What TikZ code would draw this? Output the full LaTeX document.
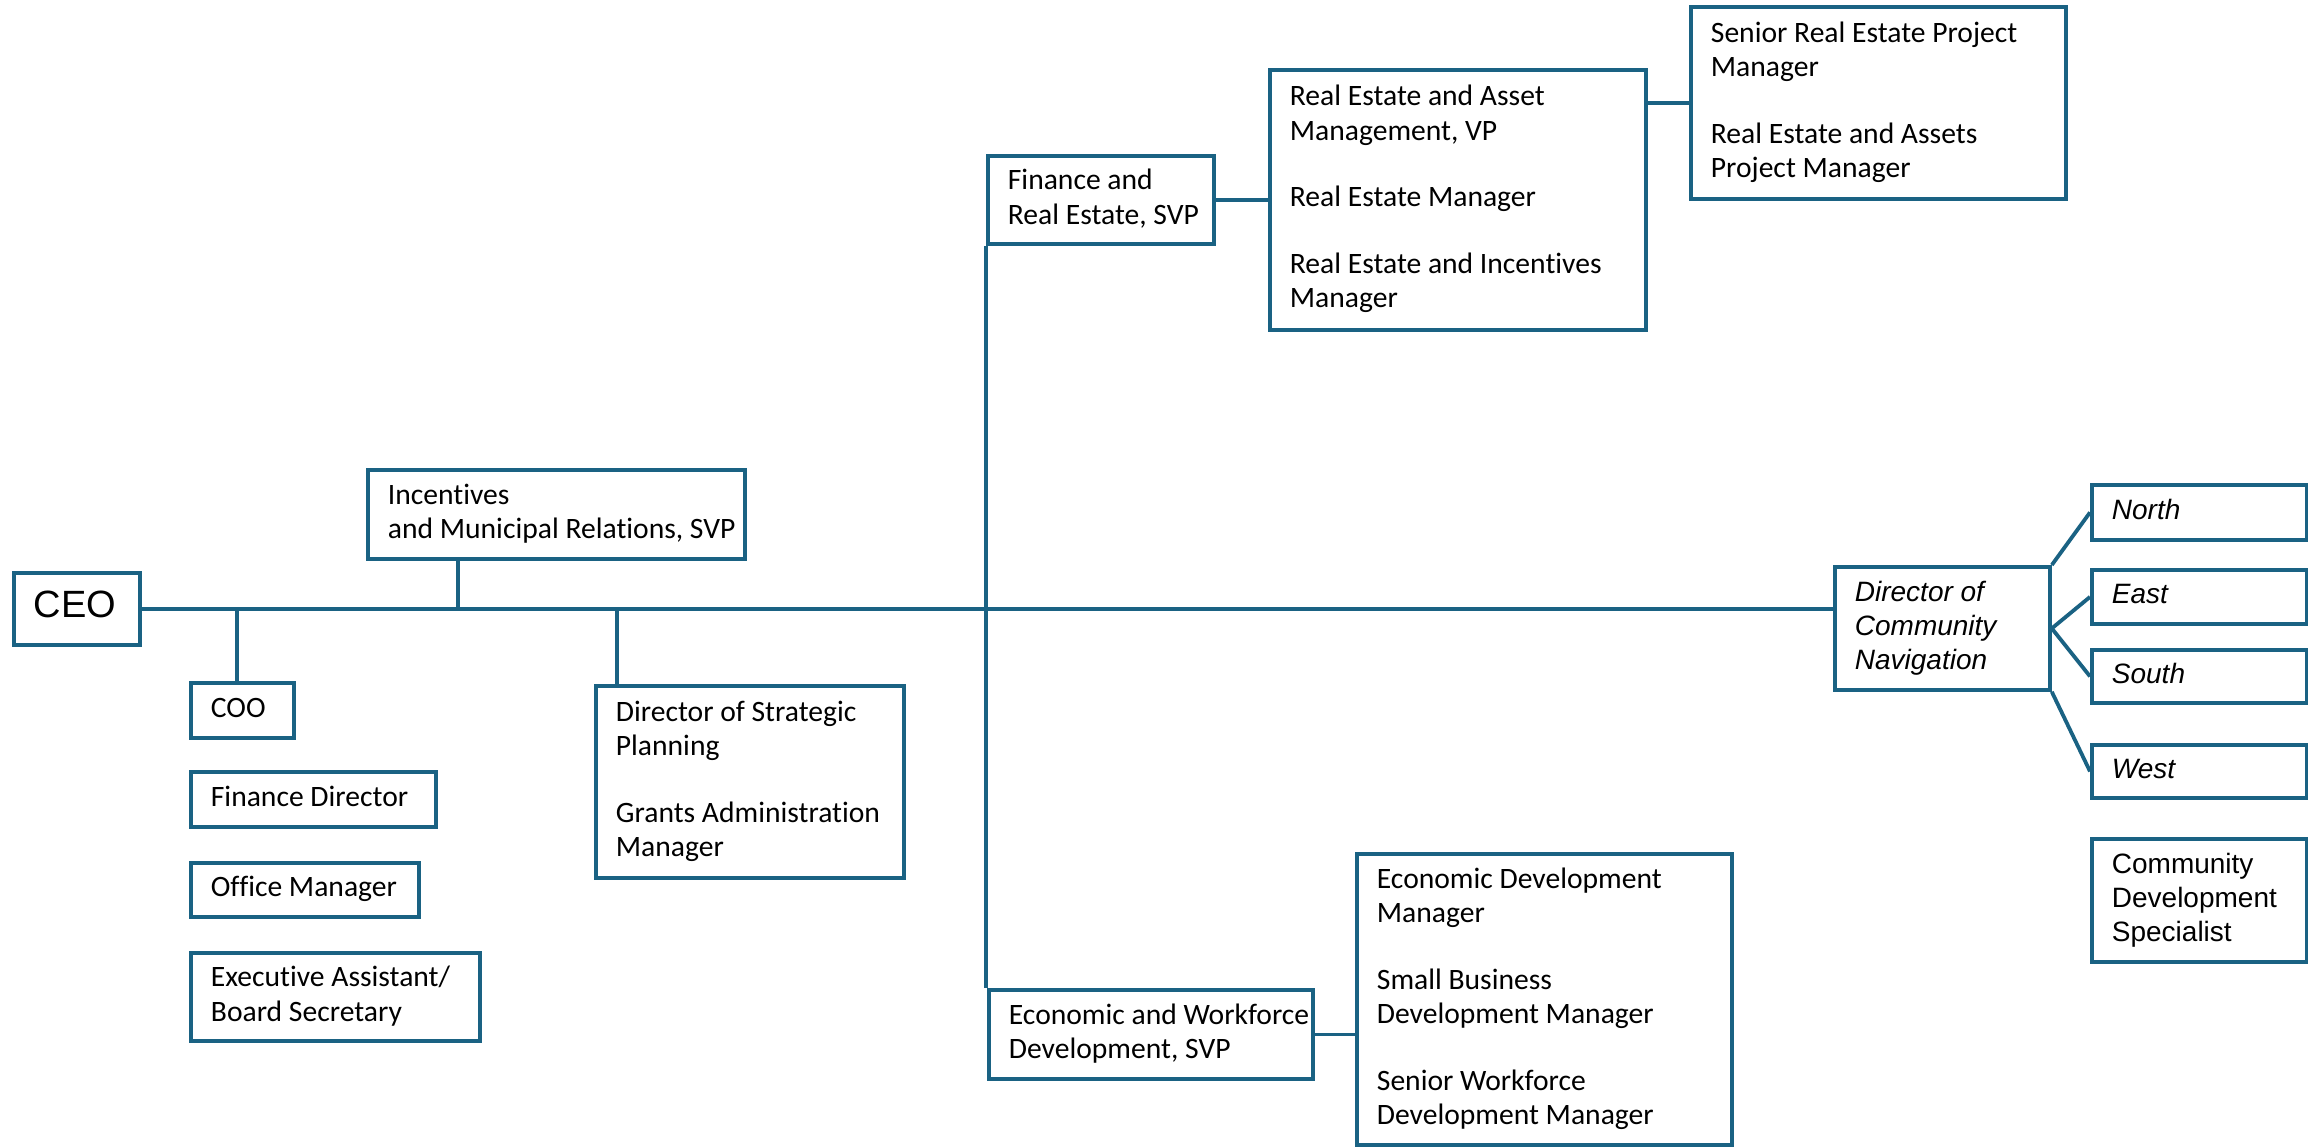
\documentclass[tikz,border=0pt]{standalone}
\usepackage{fontspec}
\setmainfont{Carlito}[Ligatures=NoCommon]
\newfontfamily\arialf{Liberation Sans}
\definecolor{bc}{HTML}{1A6283}
\tikzset{
  orgbox/.style={draw=bc, line width=1.9pt, inner xsep=10pt, inner ysep=0pt,
    align=left, anchor=north west, text=black},
  conn/.style={draw=bc, line width=1.9pt}
}
\newcommand\mainf{\fontsize{14.8}{17.25}\selectfont}
\newcommand\sidef{\arialf\fontsize{14}{17}\selectfont}
\newcommand\sideit{\arialf\itshape\fontsize{14}{17}\selectfont}
% #1 font, #2 name, #3 x1, #4 y1, #5 x2, #6 y2, #7 text
\newcommand\orgbox[7][\mainf]{%
  \pgfmathsetmacro\obW{(#5-#3)*0.5}%
  \pgfmathsetmacro\obH{(#6-#4)*0.5}%
  \pgfmathsetmacro\obT{(#5-#3)*0.5-20}%
  \node[orgbox, font=#1, minimum width=\obW pt, minimum height=\obH pt,
        text width=\obT pt] (#2) at (#3,#4)
        {\noindent\spaceskip=0pt\xspaceskip=0pt\relax\begin{tabular}{@{}l@{}}#7\end{tabular}};%
}
\begin{document}
\begin{tikzpicture}[x=0.5pt,y=-0.5pt]
\fill[white] (0,0) rectangle (2308,1146);
\useasboundingbox (0,0) rectangle (2308,1146);

\orgbox[\arialf\fontsize{19}{22}\selectfont]{ceo}{12}{571}{138}{643}{CEO}
\orgbox{coo}{189}{681}{292}{736}{COO}
\orgbox{findir}{189}{770}{434}{825}{Finance Director}
\orgbox{office}{189}{861}{417}{915}{Office Manager}
\orgbox{exec}{189}{951}{478}{1039}{Executive Assistant/\\Board Secretary}
\orgbox{inc}{366}{468}{743}{557}{Incentives\\and Municipal Relations, SVP}
\orgbox{dsp}{594}{684}{902}{876}{Director of Strategic\\Planning\\[16pt]Grants Administration\\Manager}
\orgbox{fre}{986}{154}{1212}{242}{Finance and\\Real Estate, SVP}
\orgbox{ream}{1268}{68}{1644}{328}{Real Estate and Asset\\Management, VP\\[16pt]Real Estate Manager\\[16pt]Real Estate and Incentives\\Manager}
\orgbox{srpm}{1689}{5}{2064}{197}{Senior Real Estate Project\\Manager\\[16pt]Real Estate and Assets\\Project Manager}
\orgbox{ewd}{987}{988}{1311}{1077}{Economic and Workforce\\Development, SVP}
\orgbox{edm}{1355}{852}{1730}{1143}{Economic Development\\Manager\\[16pt]Small Business\\Development Manager\\[16pt]Senior Workforce\\Development Manager}
\orgbox[\sideit]{dcn}{1833}{565}{2048}{688}{Director of\\Community\\Navigation}
\orgbox[\sideit]{north}{2090}{483}{2305}{538}{North}
\orgbox[\sideit]{east}{2090}{568}{2305}{622}{East}
\orgbox[\sideit]{south}{2090}{648}{2305}{701}{South}
\orgbox[\sideit]{west}{2090}{743}{2305}{796}{West}
\orgbox[\sidef]{cds}{2090}{837}{2305}{960}{Community\\Development\\Specialist}

\coordinate (cooj) at (237,607);
\coordinate (incj) at (458,609);
\coordinate (dspj) at (617,607);

\draw[conn] (ceo.east) -- (ceo.east -| dcn.west);
\draw[conn] (cooj) -- (cooj |- coo.north);
\draw[conn] (inc.south -| incj) -- (incj);
\draw[conn] (dspj) -- (dspj |- dsp.north);
\draw[conn] (fre.south west) -- (fre.south west |- ewd.north);
\draw[conn] (fre.east) -- (fre.east -| ream.west);
\draw[conn] (srpm.west) -- (srpm.west -| ream.east);
\draw[conn] (ewd.east) -- (ewd.east -| edm.west);
\draw[conn] (dcn.north east) -- (north.west);
\draw[conn] (dcn.east) -- (east.west);
\draw[conn] (dcn.east) -- (south.west);
\draw[conn] (dcn.south east) -- (west.west);
\end{tikzpicture}
\end{document}
